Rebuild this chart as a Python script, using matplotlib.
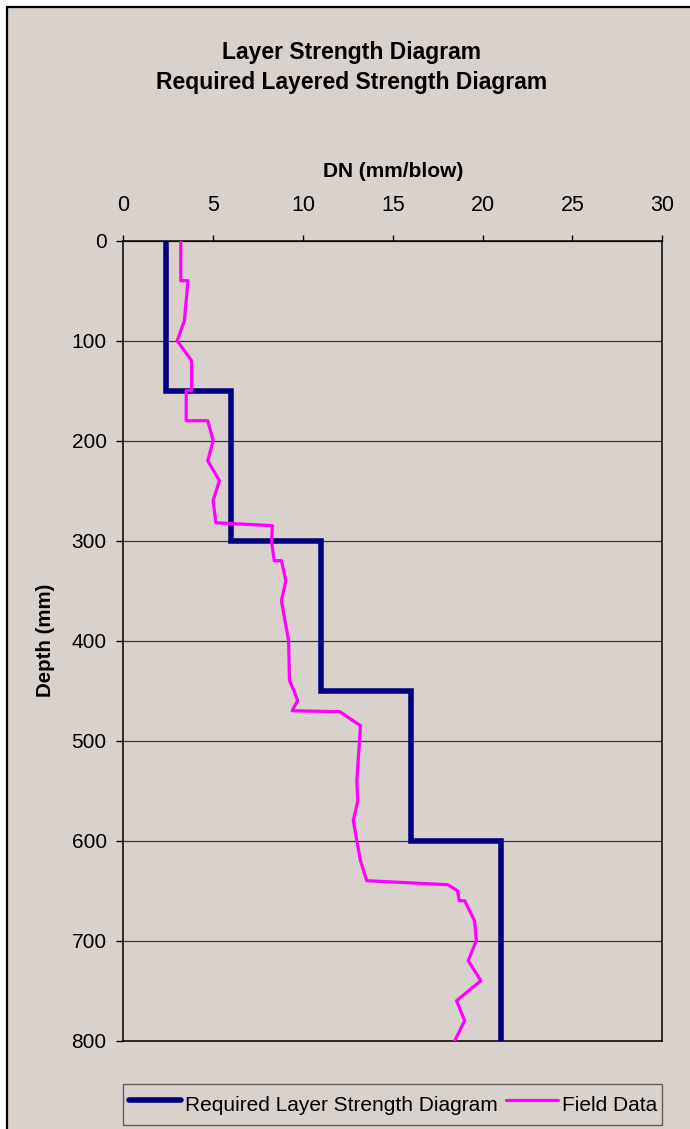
import matplotlib.pyplot as plt
from matplotlib.patches import Rectangle

plt.rcParams['font.family'] = ['Liberation Sans', 'DejaVu Sans']

# required layer strength (step profile)
req_depth = [0, 150, 150, 300, 300, 450, 450, 600, 600, 800]
req_dn = [2.4, 2.4, 6, 6, 11, 11, 16, 16, 21, 21]

# field data
field_depth = [0, 40, 40, 80, 100, 120, 150, 150, 180, 180, 200, 220, 240, 260,
               282, 285, 300, 320, 320, 340, 360, 400, 440, 450, 460, 470, 471,
               485, 540, 560, 580, 620, 640, 644, 650, 660, 660, 680, 700, 720,
               740, 760, 780, 800]
field_dn = [3.2, 3.2, 3.6, 3.4, 3.0, 3.8, 3.8, 3.5, 3.5, 4.7, 5.0, 4.7, 5.35, 5.0,
            5.15, 8.3, 8.25, 8.4, 8.8, 9.05, 8.8, 9.2, 9.25, 9.5, 9.7, 9.4, 12.05,
            13.2, 13.0, 13.05, 12.8, 13.2, 13.55, 18.05, 18.6, 18.7, 19.0, 19.55,
            19.65, 19.2, 19.9, 18.55, 19.0, 18.45]

bg = '#d9d1cb'
W, H = 690, 1129

fig = plt.figure(figsize=(6.9, 11.29), dpi=100)
fig.patch.set_facecolor('white')
# chart area with border (runs off right / bottom)
fig.patches.append(Rectangle((6.5 / W, -0.05), 1.2, 1 - 6.5 / H + 0.05,
                             transform=fig.transFigure, facecolor=bg,
                             edgecolor='black', linewidth=1.6, zorder=-10))

ax = fig.add_axes([123.3 / W, 1 - 1040.7 / H, 539 / W, 800 / H])
ax.set_facecolor(bg)

ax.plot(req_dn, req_depth, color='#000080', lw=4, solid_joinstyle='miter',
        label='Required Layer Strength Diagram', zorder=3)
ax.plot(field_dn, field_depth, color='#ff00ff', lw=2.3,
        label='Field Data', zorder=4)

ax.set_xlim(0, 30)
ax.set_ylim(800, 0)
ax.set_xticks(range(0, 31, 5))
ax.set_yticks(range(0, 801, 100))
ax.xaxis.tick_top()
ax.xaxis.set_label_position('top')
ax.tick_params(axis='x', direction='out', length=4, width=1, pad=14, labelsize=15.5)
ax.tick_params(axis='y', direction='out', length=5, width=1, pad=7, labelsize=15)
ax.yaxis.grid(True, color='#3a3a3a', lw=0.9)
ax.set_axisbelow(True)
for s in ax.spines.values():
    s.set_color('black')
    s.set_linewidth(1.1)

ax.set_xlabel('DN (mm/blow)', fontsize=15, fontweight='bold', labelpad=13)
ax.set_ylabel('Depth (mm)', fontsize=14.8, fontweight='bold', labelpad=12)

fig.text(351.5 / W, 1 - 52 / H, 'Layer Strength Diagram', ha='center', va='center',
         fontsize=16.5, fontweight='bold')
fig.text(351.5 / W, 1 - 82 / H, 'Required Layered Strength Diagram', ha='center',
         va='center', fontsize=16.5, fontweight='bold')

leg = ax.legend(loc='lower left', bbox_to_anchor=(0, -(1124.5 - 1040.7) / 800, 1, 42 / 800),
                mode='expand', ncol=2, fontsize=15, handlelength=2.5,
                handleheight=1.85, handletextpad=0.2, columnspacing=0.3,
                borderpad=0.25, frameon=True, fancybox=False, borderaxespad=0)
leg.get_frame().set_facecolor(bg)
leg.get_frame().set_edgecolor('#404040')
leg.get_frame().set_linewidth(1.0)
for ln in leg.get_lines():
    ln.set_solid_capstyle('round')

fig.savefig('out.png', dpi=100, facecolor=fig.get_facecolor())
